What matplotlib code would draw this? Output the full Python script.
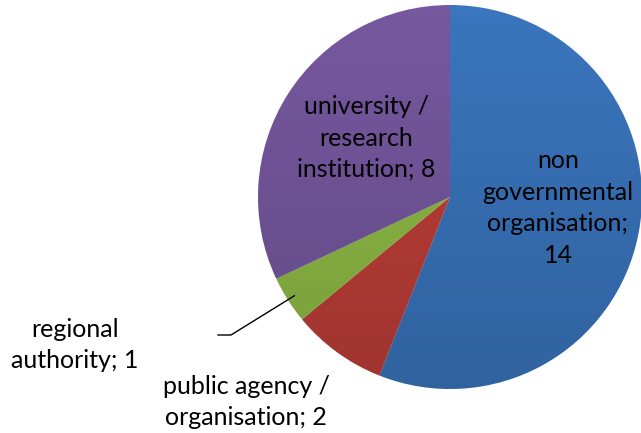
import numpy as np
import matplotlib.pyplot as plt
from matplotlib.patches import Circle

labels = ["non\ngovernmental\norganisation;\n14",
          "public agency /\norganisation; 2",
          "regional\nauthority; 1",
          "university /\nresearch\ninstitution; 8"]
values = [14, 2, 1, 8]
colors = ["#3A75BD", "#BE3E38", "#8FBC46", "#76589F"]

W, H = 641, 433
cx, cy, r = 450, H - 197, 192

fig = plt.figure(figsize=(W / 100, H / 100), dpi=100)
ax = fig.add_axes([0, 0, 1, 1])

wedges, _ = ax.pie(values, colors=colors, startangle=90, counterclock=False,
                   center=(cx, cy), radius=r, frame=True,
                   wedgeprops=dict(linewidth=0))
ax.set_xlim(0, W)
ax.set_ylim(0, H)
ax.set_aspect("equal")
ax.axis("off")

# soft vertical shading like the office style
grad = np.linspace(0, 1, 256).reshape(-1, 1)
shade = np.zeros((256, 1, 4))
shade[..., 3] = 0.16 * grad
im = ax.imshow(shade, extent=(cx - r, cx + r, cy - r, cy + r), origin="upper",
               aspect="auto", zorder=3)
clip = Circle((cx, cy), r, transform=ax.transData)
im.set_clip_path(clip)

font = dict(family="Lato", fontsize=18, color="black", linespacing=1.45,
            ha="center", va="center")
ax.text(558, H - 208, labels[0], **font)
ax.text(246, H - 402, labels[1], **font)
ax.text(75, H - 345, labels[2], **font)
ax.text(366, H - 138, labels[3], **font)

# leader line for the small wedge
cum = np.cumsum([0] + values)
mid = np.deg2rad(90 - (cum[2] + values[2] / 2) / cum[-1] * 360)
ex, ey = cx + 0.96 * r * np.cos(mid), cy + 0.96 * r * np.sin(mid)
ax.plot([218, 231, ex], [H - 335, H - 335, ey], color="black", lw=1, zorder=4)

fig.savefig("out.png", dpi=100)
